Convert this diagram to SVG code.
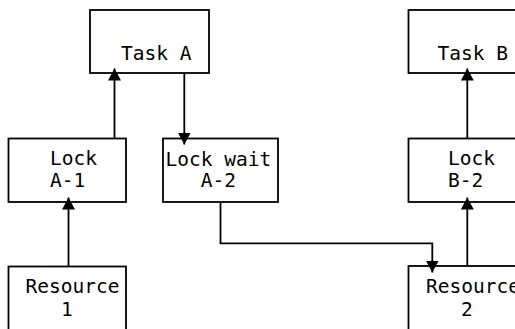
<svg xmlns="http://www.w3.org/2000/svg" width="515" height="329" viewBox="0 0 515 329">
  <style>
    .box { fill: #ffffff; stroke: #000000; stroke-width: 1.8; }
    .label { font-family: "DejaVu Sans Mono", "Liberation Mono", monospace; font-size: 19.5px; fill: #000000; }
    .edge { fill: none; stroke: #000000; stroke-width: 1.8; marker-end: url(#arrow); }
  </style>
  <defs>
    <marker id="arrow" markerUnits="userSpaceOnUse" markerWidth="14" markerHeight="14" refX="12" refY="6.5" orient="auto">
      <path d="M0,0 L12,6.5 L0,13 Z" fill="#000000"/>
    </marker>
  </defs>

  <rect width="515" height="329" fill="#ffffff"/>

  <g id="task-a">
    <rect class="box" x="90" y="10" width="119" height="63"/>
    <text class="label" x="121" y="59.5">Task A</text>
  </g>

  <g id="task-b">
    <rect class="box" x="408.5" y="10" width="119" height="63"/>
    <text class="label" x="437.5" y="59.5">Task B</text>
  </g>

  <g id="lock-a1">
    <rect class="box" x="8.5" y="138.5" width="117.5" height="63.5"/>
    <text class="label" x="50" y="165">Lock</text>
    <text class="label" x="50" y="187">A-1</text>
  </g>

  <g id="lock-wait-a2">
    <rect class="box" x="163" y="138.5" width="115" height="63.5"/>
    <text class="label" x="165.5" y="166">Lock wait</text>
    <text class="label" x="200.7" y="187">A-2</text>
  </g>

  <g id="lock-b2">
    <rect class="box" x="408.5" y="138.5" width="119" height="63.5"/>
    <text class="label" x="448" y="165">Lock</text>
    <text class="label" x="448" y="187">B-2</text>
  </g>

  <g id="resource-1">
    <rect class="box" x="8.5" y="266.5" width="117.5" height="80"/>
    <text class="label" x="25.5" y="293">Resource</text>
    <text class="label" x="61" y="316">1</text>
  </g>

  <g id="resource-2">
    <rect class="box" x="408.5" y="266" width="119" height="80"/>
    <text class="label" x="426" y="293">Resource</text>
    <text class="label" x="461" y="316">2</text>
  </g>

  <g id="connectors">
    <path class="edge" d="M68.5,266.5 V197.5"/>
    <path class="edge" d="M114.5,138.5 V68.5"/>
    <path class="edge" d="M184.3,73 V144.5"/>
    <path class="edge" d="M220.5,202 V243.3 H432.3 V272.5"/>
    <path class="edge" d="M467.3,266 V197.5"/>
    <path class="edge" d="M467.3,138.5 V68.5"/>
  </g>
</svg>
